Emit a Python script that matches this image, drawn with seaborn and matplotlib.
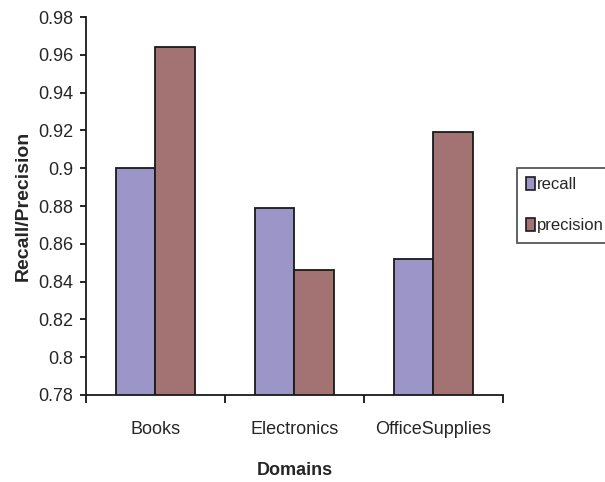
import matplotlib
matplotlib.use("Agg")
import matplotlib.pyplot as plt
import seaborn as sns
import pandas as pd
from matplotlib.ticker import FixedLocator

# Per-domain evaluation scores
domains = ["Books", "Electronics", "OfficeSupplies"]
recall = [0.900, 0.879, 0.852]
precision = [0.964, 0.846, 0.919]
series_names = ["recall", "precision"]
y_ticks = [0.78, 0.80, 0.82, 0.84, 0.86, 0.88, 0.90, 0.92, 0.94, 0.96, 0.98]
y_tick_labels = ["0.78", "0.8", "0.82", "0.84", "0.86", "0.88", "0.9", "0.92", "0.94", "0.96", "0.98"]

df = pd.DataFrame({
    "Domains": domains * 2,
    "metric": [series_names[0]] * len(domains) + [series_names[1]] * len(domains),
    "value": recall + precision,
})

sns.set_style("white")
plt.rcParams["font.family"] = ["Liberation Sans", "DejaVu Sans"]

fig = plt.figure(figsize=(6.05, 4.82), dpi=100)
ax = fig.add_axes([0.1421, 0.1805, 0.6893, 0.7842])

palette = {"recall": "#9c96c8", "precision": "#a37272"}
sns.barplot(data=df, x="Domains", y="value", hue="metric", palette=palette,
            width=0.57, edgecolor="#1a1a1a", linewidth=1.3, saturation=1,
            ax=ax, legend=False)

ax.set_ylim(0.78, 0.98)
ax.set_xlim(-0.5, 2.5)
ax.set_yticks(y_ticks)
ax.set_yticklabels(y_tick_labels, fontsize=13)
ax.tick_params(axis="y", direction="out", length=4, width=1.2, pad=5,
               color="black", left=True)

# category labels centred, tick marks on the category boundaries
ax.set_xticks(range(len(domains)))
ax.set_xticklabels(domains, fontsize=13)
ax.tick_params(axis="x", which="major", length=0, pad=19)
ax.xaxis.set_minor_locator(FixedLocator([-0.5, 0.5, 1.5, 2.5]))
ax.tick_params(axis="x", which="minor", direction="out", length=5.5,
               width=1.2, color="black", bottom=True)

for side in ("top", "right"):
    ax.spines[side].set_visible(False)
for side in ("left", "bottom"):
    ax.spines[side].set_color("#1a1a1a")
    ax.spines[side].set_linewidth(1.3)

ax.set_xlabel("Domains", fontsize=13, fontweight="bold")
ax.set_ylabel("Recall/Precision", fontsize=14, fontweight="bold")
ax.xaxis.set_label_coords(0.5, -0.178)
ax.yaxis.set_label_coords(-0.13, 0.5)

handles = [plt.Rectangle((0, 0), 1, 1, facecolor=palette[n], edgecolor="#1a1a1a",
                         linewidth=1.2) for n in series_names]
leg = fig.legend(handles, series_names, loc="upper left",
                 bbox_to_anchor=(517 / 605, 1 - 168 / 482), bbox_transform=fig.transFigure,
                 fontsize=12, frameon=True, fancybox=False, handlelength=0.5,
                 handleheight=0.8, handletextpad=0.15, labelspacing=1.55,
                 borderpad=0.55, borderaxespad=0)
leg.get_frame().set_edgecolor("#1a1a1a")
leg.get_frame().set_linewidth(1.2)

fig.savefig("out.png", dpi=100)
